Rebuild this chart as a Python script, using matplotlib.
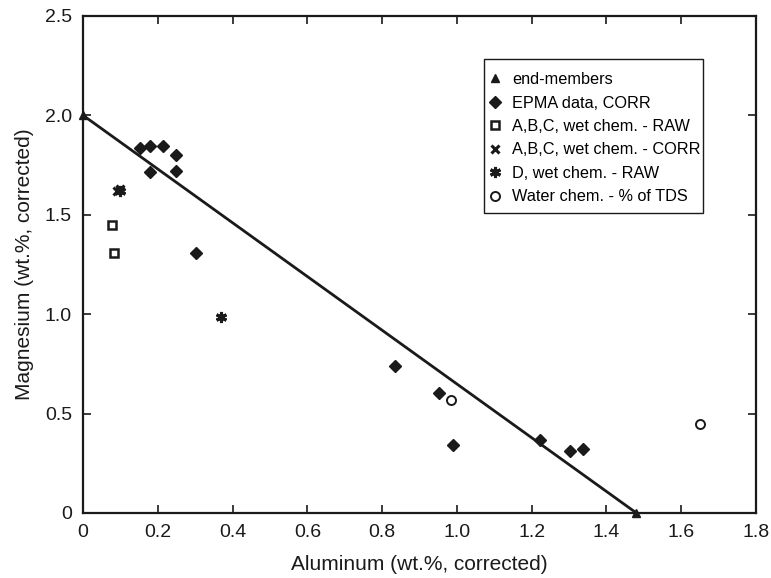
import matplotlib
matplotlib.use("Agg")
import matplotlib.pyplot as plt
from matplotlib.patches import Rectangle

plt.rcParams['font.family'] = ['Liberation Sans', 'DejaVu Sans']

# Data
end_x = [0.0, 1.48]
end_y = [2.0, 0.0]

epma_x = [0.153, 0.18, 0.214, 0.249, 0.18, 0.249, 0.303, 0.834, 0.952, 0.989, 1.222, 1.303, 1.338]
epma_y = [1.835, 1.845, 1.845, 1.80, 1.715, 1.72, 1.31, 0.74, 0.605, 0.34, 0.365, 0.31, 0.32]

abc_raw_x = [0.078, 0.083]
abc_raw_y = [1.45, 1.31]

abc_corr_x = [0.09, 0.10]
abc_corr_y = [1.62, 1.63]

d_raw_x = [0.10, 0.37]
d_raw_y = [1.62, 0.985]

water_x = [0.984, 1.651]
water_y = [0.57, 0.445]

xticks = [0, 0.2, 0.4, 0.6, 0.8, 1.0, 1.2, 1.4, 1.6, 1.8]
xtick_labels = ['0', '0.2', '0.4', '0.6', '0.8', '1.0', '1.2', '1.4', '1.6', '1.8']
yticks = [0, 0.5, 1.0, 1.5, 2.0, 2.5]
ytick_labels = ['0', '0.5', '1.0', '1.5', '2.0', '2.5']

fig = plt.figure(figsize=(7.71, 5.78), dpi=100)
ax = fig.add_axes([0.1077, 0.1125, 0.8729, 0.860])

ink = '#1a1a1a'
ax.plot(end_x, end_y, color=ink, lw=2.0, zorder=2)
ax.plot(end_x, end_y, ls='none', marker='^', ms=6, color=ink,
        label='end-members', zorder=3, clip_on=False)
ax.plot(epma_x, epma_y, ls='none', marker='D', ms=6.5, color=ink,
        label='EPMA data, CORR', zorder=3)
ax.plot(abc_raw_x, abc_raw_y, ls='none', marker='s', ms=5.5, mfc='white',
        mec=ink, mew=1.8, label='A,B,C, wet chem. - RAW', zorder=3)
ax.plot(abc_corr_x, abc_corr_y, ls='none', marker='x', ms=6, mec=ink,
        mew=2.2, label='A,B,C, wet chem. - CORR', zorder=3)
ax.plot(d_raw_x, d_raw_y, ls='none', marker=(6, 2, 0), ms=8, mec=ink,
        mew=2.2, label='D, wet chem. - RAW', zorder=3)
ax.plot(water_x, water_y, ls='none', marker='o', ms=6.5, mfc='white',
        mec=ink, mew=1.4, label='Water chem. - % of TDS', zorder=3)

ax.set_xlim(0, 1.8)
ax.set_ylim(0, 2.5)
ax.set_xticks(xticks)
ax.set_xticklabels(xtick_labels)
ax.set_yticks(yticks)
ax.set_yticklabels(ytick_labels)
ax.tick_params(direction='in', length=6, width=1.2, labelsize=14, colors=ink,
               pad=8, top=True, right=True)
for s in ax.spines.values():
    s.set_linewidth(1.6)
    s.set_color(ink)

ax.set_xlabel('Aluminum (wt.%, corrected)', fontsize=15, color=ink, labelpad=10)
ax.set_ylabel('Magnesium (wt.%, corrected)', fontsize=15, color=ink, labelpad=8)

# Legend box (frame drawn separately for tight horizontal padding)
ax.add_patch(Rectangle((0.5958, 0.6036), 0.9212 - 0.5958, 0.9135 - 0.6036,
                       transform=ax.transAxes, fill=True, facecolor='white',
                       edgecolor=ink, lw=1.0, zorder=4))
leg = ax.legend(loc='upper left', bbox_to_anchor=(0.6048, 0.887), fontsize=11.7,
                frameon=False, handlelength=0.6, handletextpad=0.74,
                borderpad=0, labelspacing=0.52, borderaxespad=0)
leg.set_zorder(5)

fig.savefig('out.png', dpi=100)
